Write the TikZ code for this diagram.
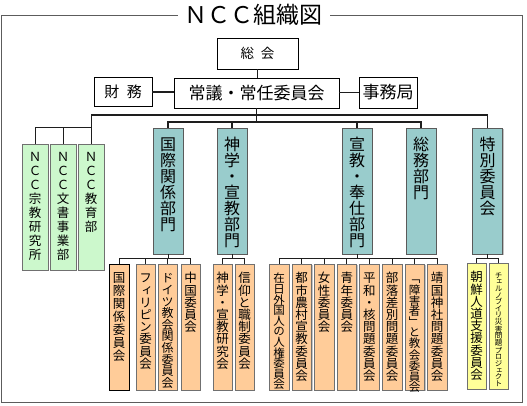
\documentclass[tikz,border=0pt]{standalone}
\usepackage{fontspec}
\setmainfont{Noto Sans CJK JP}
\newfontfamily\tatefamily{Noto Sans CJK JP}[RawFeature=+vert]
\usetikzlibrary{shadows}
\lineskiplimit=-100pt
\definecolor{Ink}{HTML}{1E1E1E}
\definecolor{Frame}{HTML}{5C5C5C}
\definecolor{Edge}{HTML}{707070}
\definecolor{NccGreen}{HTML}{CCF8CC}
\definecolor{DeptTeal}{HTML}{99CCCC}
\definecolor{CommOrange}{HTML}{FFCC99}
\definecolor{SpecYellow}{HTML}{FFFF99}
\tikzset{
 topbox/.style={draw=black, fill=white, inner sep=0pt, line width=0.8pt},
 tatebox/.style={draw=Edge, anchor=north, inner sep=0pt, align=center, drop shadow={shadow xshift=1.2pt, shadow yshift=-1.2pt, fill=black!40, opacity=.6}},
 greenbox/.style={tatebox, fill=NccGreen, text width=26pt, text height=17.5pt, text depth=108.5pt, font=\tatefamily\fontsize{12.5}{14}\selectfont},
 tealbox/.style={tatebox, fill=DeptTeal, draw=Edge!80!black, text width=30pt, text height=22.6pt, text depth=103.4pt, font=\tatefamily\fontsize{16}{16}\selectfont},
 orangebox/.style={tatebox, fill=CommOrange, text width=19.5pt, text height=18.6pt, text depth=107.4pt, font=\tatefamily\fontsize{12.5}{12.2}\selectfont},
 yellowbox/.style={orangebox, fill=SpecYellow},
 tight/.style={font=\tatefamily\fontsize{11.5}{10.6}\selectfont},
 bus/.style={draw=Ink, line width=1.8pt},
 link/.style={draw=Ink, line width=1pt}
}
\begin{document}
\begin{tikzpicture}[x=1pt, y=-1pt]
\useasboundingbox (0,0) rectangle (527,406);
\draw[draw=Frame, line width=1pt] (1,16) rectangle (522,402);
\node[fill=white, inner xsep=7pt, inner ysep=1pt, font=\fontsize{23}{26}\selectfont] (title) at (253.5,15) {ＮＣＣ組織図};

\node[topbox, minimum width=81pt, minimum height=31pt, font=\fontsize{13.5}{16}\selectfont] (sokai) at (257.5,53.5) {総\enspace 会};
\node[topbox, minimum width=165pt, minimum height=30pt, font=\fontsize{17}{20}\selectfont] (jogi) at (256.5,93) {常議・常任委員会};
\node[topbox, minimum width=58pt, minimum height=29pt, font=\fontsize{15}{18}\selectfont] (zaimu) at (123,92) {財\enspace 務};
\node[topbox, minimum width=58pt, minimum height=31pt, font=\fontsize{17}{20}\selectfont] (jimu) at (388,92.5) {事務局};

\node[greenbox] (ncc1) at (35,144) {Ｎ\\Ｃ\\Ｃ\\宗\\教\\研\\究\\所};
\node[greenbox] (ncc2) at (63,144) {Ｎ\\Ｃ\\Ｃ\\文\\書\\事\\業\\部};
\node[greenbox] (ncc3) at (91,144) {Ｎ\\Ｃ\\Ｃ\\教\\育\\部};

\node[tealbox] (kokusai) at (168,128) {国\\際\\関\\係\\部\\門};
\node[tealbox] (shingaku) at (232,128) {神\\学\\・\\宣\\教\\部\\門};
\node[tealbox] (senkyo) at (357,128) {宣\\教\\・\\奉\\仕\\部\\門};
\node[tealbox] (somu) at (421,128) {総\\務\\部\\門};
\node[tealbox] (tokubetsu) at (487.5,128) {特\\別\\委\\員\\会};

\node[orangebox, draw=black, font=\tatefamily\fontsize{12.5}{13}\selectfont] (k1) at (119,264) {国\\際\\関\\係\\委\\員\\会};
\node[orangebox] (k2) at (145.5,264) {フ\\ィ\\リ\\ピ\\ン\\委\\員\\会};
\node[orangebox, font=\tatefamily\fontsize{12}{11.6}\selectfont] (k3) at (167.5,264) {ド\\イ\\ツ\\教\\会\\関\\係\\委\\員\\会};
\node[orangebox] (k4) at (190.5,264) {中\\国\\委\\員\\会};
\node[orangebox] (s1) at (222.5,264) {神\\学\\・\\宣\\教\\研\\究\\会};
\node[orangebox] (s2) at (244.5,264) {信\\仰\\と\\職\\制\\委\\員\\会};
\node[orangebox, tight] (h1) at (279,264) {在\\日\\外\\国\\人\\の\\人\\権\\委\\員\\会};
\node[orangebox] (h2) at (301.6,264) {都\\市\\農\\村\\宣\\教\\委\\員\\会};
\node[orangebox] (h3) at (324.2,264) {女\\性\\委\\員\\会};
\node[orangebox] (h4) at (346.8,264) {青\\年\\委\\員\\会};
\node[orangebox] (h5) at (369.4,264) {平\\和\\・\\核\\問\\題\\委\\員\\会};
\node[orangebox] (h6) at (392,264) {部\\落\\差\\別\\問\\題\\委\\員\\会};
\node[orangebox, tight] (h7) at (414.6,264) {「\\障\\害\\者\\」\\と\\教\\会\\委\\員\\会};
\node[orangebox] (h8) at (437.2,264) {靖\\国\\神\\社\\問\\題\\委\\員\\会};
\node[yellowbox] (t1) at (476.5,263) {朝\\鮮\\人\\道\\支\\援\\委\\員\\会};
\node[yellowbox, text height=15pt, text depth=111pt, font=\tatefamily\fontsize{7.5}{6.6}\selectfont] (t2) at (498.5,263) {チ\\ェ\\ル\\ノ\\ブ\\イ\\リ\\災\\害\\問\\題\\プ\\ロ\\ジ\\ェ\\ク\\ト};

\coordinate (busA) at (0,115);
\coordinate (busB) at (0,122);
\coordinate (gbranch) at (0,128);
\coordinate (sub) at (0,258);

\draw[link, line width=1.4pt] (sokai.south) -- (sokai.south |- jogi.north);
\draw[bus] (zaimu.east) -- (zaimu.east -| jogi.west);
\draw[bus] (jimu.west) -- (jimu.west -| jogi.east);
\draw[bus] (jogi.south) -- (jogi.south |- busB);
\draw[bus] (ncc3.north |- busA) -| (tokubetsu.north);
\draw[link] (ncc3.north) -- (ncc3.north |- busA);
\draw[link] (ncc1.north) |- (ncc3.north |- gbranch);
\draw[link] (ncc2.north) -- (ncc2.north |- gbranch);
\draw[bus, line width=1.5pt] (kokusai.north) -- (kokusai.north |- busB) -| (somu.north);
\foreach \d in {shingaku,senkyo}
  \draw[link, line width=1.5pt] (\d.north) -- (\d.north |- busB);

\foreach \c in {k1,k2,k3,k4}
  \draw[link] (kokusai.south) -- (kokusai.south |- sub) -| (\c.north);
\foreach \c in {s1,s2}
  \draw[link] (shingaku.south) -- (shingaku.south |- sub) -| (\c.north);
\foreach \c in {h1,h2,h3,h4,h5,h6,h7,h8}
  \draw[link] (senkyo.south) -- (senkyo.south |- sub) -| (\c.north);
\foreach \c in {t1,t2}
  \draw[link] (tokubetsu.south) -- (tokubetsu.south |- sub) -| (\c.north);
\end{tikzpicture}
\end{document}
